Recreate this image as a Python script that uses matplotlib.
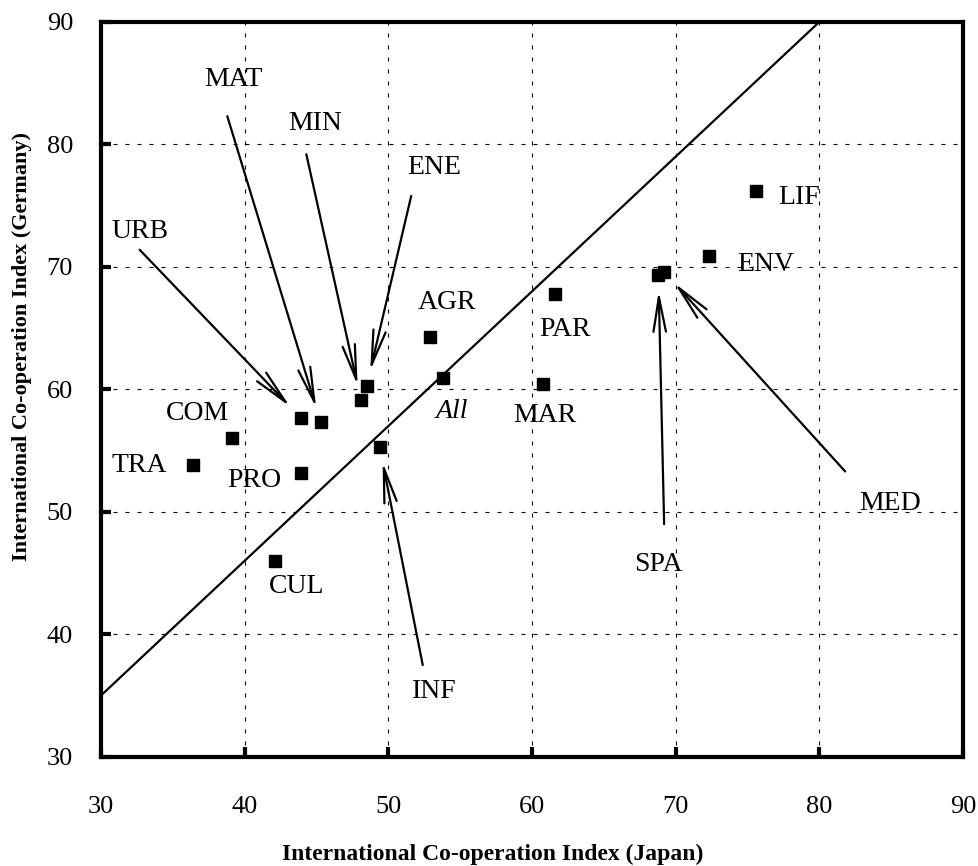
import numpy as np
import matplotlib
matplotlib.use('Agg')
import matplotlib.pyplot as plt

# sector codes and their index values (Japan on x, Germany on y)
sectors = ['TRA', 'COM', 'PRO', 'CUL', 'URB', 'MAT', 'MIN', 'ENE', 'INF',
           'AGR', 'All', 'PAR', 'MAR', 'SPA', 'MED', 'ENV', 'LIF']
japan = [36.4, 39.1, 43.9, 42.1, 43.9, 45.3, 48.1, 48.5, 49.4,
         52.9, 53.8, 61.6, 60.8, 68.8, 69.2, 72.3, 75.6]
germany = [53.8, 56.0, 53.2, 46.0, 57.7, 57.3, 59.1, 60.3, 55.3,
           64.3, 60.9, 67.8, 60.4, 69.3, 69.6, 70.9, 76.2]

# fitted line y = slope * x + intercept
slope = 1.1
intercept = 2.0

ticks = [30, 40, 50, 60, 70, 80, 90]

# label placement (data coords); arrow start given where a pointer is used
label_pos = {
    'TRA': (32.7, 53.8), 'COM': (36.7, 58.0), 'PRO': (40.7, 52.6),
    'CUL': (43.6, 43.9), 'URB': (32.7, 72.9), 'MAT': (39.2, 85.3),
    'MIN': (44.9, 81.7), 'ENE': (53.2, 78.1), 'INF': (53.2, 35.3),
    'AGR': (54.1, 67.1), 'All': (54.4, 58.2), 'PAR': (62.3, 64.9),
    'MAR': (60.9, 57.9), 'SPA': (68.8, 45.7), 'MED': (84.9, 50.7),
    'ENV': (76.3, 70.2), 'LIF': (78.6, 75.7),
}
arrow_start = {
    'URB': (32.7, 71.4), 'MAT': (38.8, 82.3), 'MIN': (44.3, 79.2),
    'ENE': (51.6, 75.8), 'INF': (52.4, 37.5), 'SPA': (69.2, 49.0),
    'MED': (81.8, 53.3),
}

plt.rcParams['font.family'] = ['Liberation Serif', 'DejaVu Serif']

fig = plt.figure(figsize=(9.79, 8.66), dpi=100)
ax = fig.add_axes([0.103, 0.126, 0.8807, 0.8487])

# grid
for t in ticks[1:-1]:
    ax.axhline(t, color='black', lw=0.8, linestyle=(0, (3.6, 7.2)), zorder=1)
    ax.axvline(t, color='black', lw=0.8, linestyle=(0, (3.6, 7.2)), zorder=1)

# fitted line
xs = np.array([30, 90])
ax.plot(xs, slope * xs + intercept, color='black', lw=1.6, zorder=2)

# points
ax.plot(japan, germany, 's', color='black', markersize=8, zorder=3)

# labels and pointer arrows
for name, xj, yg in zip(sectors, japan, germany):
    lx, ly = label_pos[name]
    style = 'italic' if name == 'All' else 'normal'
    ax.text(lx, ly, name, fontsize=20, ha='center', va='center',
            style=style, zorder=4)
    if name in arrow_start:
        ax.annotate('', xy=(xj, yg), xytext=arrow_start[name],
                    arrowprops=dict(arrowstyle='->,head_length=2.5,head_width=0.45',
                                    mutation_scale=10, lw=1.6, color='black',
                                    shrinkA=0, shrinkB=11),
                    zorder=4)

ax.set_xlim(30, 90)
ax.set_ylim(30, 90)
ax.set_xticks(ticks)
ax.set_yticks(ticks)
ax.tick_params(direction='in', length=7, width=3, labelsize=19,
               top=False, right=False)
ax.tick_params(axis='x', pad=28)
ax.tick_params(axis='y', pad=20)
for sp in ax.spines.values():
    sp.set_linewidth(3)

ax.set_xlabel('International Co-operation Index (Japan)', fontsize=17,
              fontweight='bold')
ax.set_ylabel('International Co-operation Index (Germany)', fontsize=16,
              fontweight='bold')
ax.xaxis.set_label_coords(0.455, -0.118)
ax.yaxis.set_label_coords(-0.08, 0.558)

fig.savefig('out.png', dpi=100)
